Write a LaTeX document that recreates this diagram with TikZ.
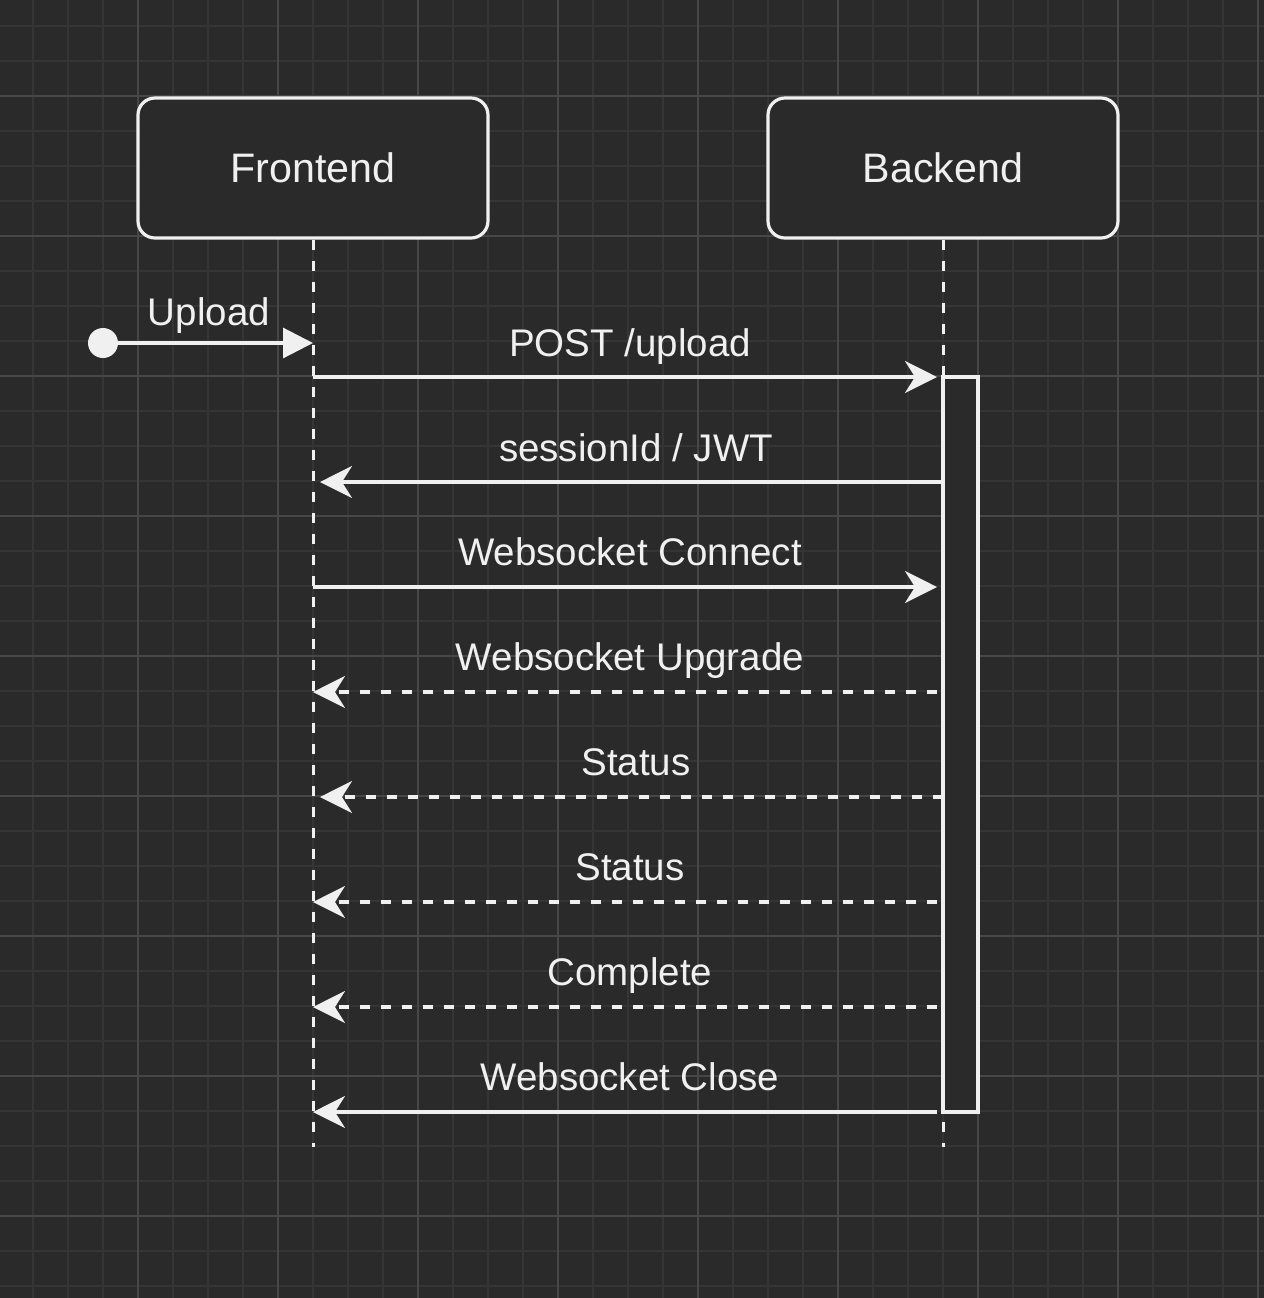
\documentclass[tikz,border=0pt]{standalone}
\usepackage{fontspec}
\setmainfont{Liberation Sans}
\usetikzlibrary{arrows.meta}
\definecolor{bg}{HTML}{2A2A2A}
\definecolor{gridminor}{HTML}{353535}
\definecolor{gridmajor}{HTML}{474747}
\definecolor{fg}{HTML}{F0F0F0}
\tikzset{
  actor/.style={draw=fg, line width=1.6pt, rounded corners=8.5pt, fill=bg,
    minimum width=175pt, minimum height=70pt, text=fg,
    font=\fontsize{20.6pt}{24pt}\selectfont},
  lifeline/.style={draw=fg, line width=1.5pt, dash pattern=on 5.25pt off 5.25pt},
  msg/.style={draw=fg, line width=1.6pt, -{Stealth[length=16pt,width=16pt,inset=5pt]}},
  reply/.style={msg, dash pattern=on 5.25pt off 5.25pt},
  lbl/.style={text=fg, anchor=base, inner sep=0pt, font=\fontsize{19.25pt}{23pt}\selectfont},
  activation/.style={draw=fg, line width=1.6pt, fill=bg, outer sep=0pt, inner sep=0pt}
}
\begin{document}
\begin{tikzpicture}[x=0.5pt, y=-0.5pt]
\fill[bg] (0,0) rectangle (1264,1298);
\useasboundingbox (0,0) rectangle (1264,1298);
% grid
\foreach \i in {0,...,37} {
  \pgfmathsetmacro{\gx}{-2+35*\i}
  \draw[gridminor, line width=0.9pt] (\gx,0) -- (\gx,1298);
  \pgfmathsetmacro{\gy}{-9+35*\i}
  \draw[gridminor, line width=0.9pt] (0,\gy) -- (1264,\gy);
}
\foreach \i in {0,...,9} {
  \pgfmathsetmacro{\gx}{-2+140*\i}
  \draw[gridmajor, line width=0.6pt] (\gx,0) -- (\gx,1298);
  \pgfmathsetmacro{\gy}{-44+140*\i}
  \draw[gridmajor, line width=0.6pt] (0,\gy) -- (1264,\gy);
}
% actors
\node[actor] (fe) at (313,168) {Frontend};
\node[actor] (be) at (943,168) {Backend};
\coordinate (feEnd) at (313,1147);
\coordinate (beEnd) at (943,1147);
\draw[lifeline] (fe.south) -- (feEnd);
\draw[lifeline] (be.south) -- (beEnd);
% activation
\node[activation, minimum width=17.5pt, minimum height=367.5pt, anchor=north west] (act) at (943,377) {};
% start dot
\fill[fg] (103,343) circle (7.5pt);
\coordinate (start) at (103,343);
\coordinate (feUp) at (313,343);
\draw[draw=fg, line width=1.6pt, -{Triangle[length=15pt,width=15pt]}] (start) -- (feUp);
\node[lbl] (lUp) at (209,325) {Upload};
% messages
\coordinate (f1) at (313,377); \coordinate (b1) at (937,377);
\draw[msg] (f1) -- (b1);
\node[lbl] (l1) at (630,356) {POST /upload};

\coordinate (b2) at (943,482); \coordinate (f2) at (320,482);
\draw[msg] (b2) -- (f2);
\node[lbl] (l2) at (636,461) {sessionId / JWT};

\coordinate (f3) at (313,587); \coordinate (b3) at (937,587);
\draw[msg] (f3) -- (b3);
\node[lbl] (l3) at (630,565) {Websocket Connect};

\coordinate (b4) at (937,692); \coordinate (f4) at (313,692);
\draw[reply] (b4) -- (f4);
\node[lbl] (l4) at (630,670) {Websocket Upgrade};

\coordinate (b5) at (943,797); \coordinate (f5) at (320,797);
\draw[reply] (b5) -- (f5);
\node[lbl] (l5) at (636,775) {Status};

\coordinate (b6) at (937,902); \coordinate (f6) at (313,902);
\draw[reply] (b6) -- (f6);
\node[lbl] (l6) at (630,880) {Status};

\coordinate (b7) at (937,1007); \coordinate (f7) at (313,1007);
\draw[reply] (b7) -- (f7);
\node[lbl] (l7) at (630,985) {Complete};

\coordinate (b8) at (937,1112); \coordinate (f8) at (313,1112);
\draw[msg] (b8) -- (f8);
\node[lbl] (l8) at (630,1090) {Websocket Close};
\end{tikzpicture}
\end{document}
